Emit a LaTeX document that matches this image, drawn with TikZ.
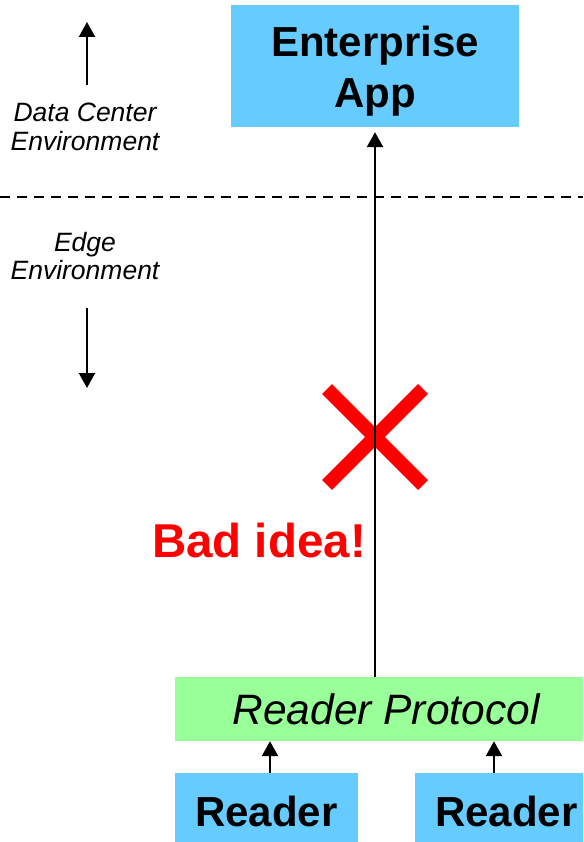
\documentclass[tikz,border=0pt]{standalone}
\usepackage{fontspec}
\setmainfont{Liberation Sans}
\usetikzlibrary{arrows.meta, positioning}

\definecolor{boxblue}{HTML}{66CCFF}
\definecolor{protogreen}{HTML}{99FF99}

\tikzset{
	bluebox/.style={fill=boxblue, inner sep=0pt, align=center, font=\bfseries\fontsize{42}{51}\selectfont},
	envlabel/.style={inner sep=0pt, align=center, font=\itshape\fontsize{26.5}{28.5}\selectfont},
	arr/.style={draw, line width=2.2pt, -{Triangle[width=16pt, length=15pt]}}
}

\begin{document}
\begin{tikzpicture}[x=1pt, y=-1pt]

\useasboundingbox (0,0) rectangle (583,842);
\clip (0,0) rectangle (583,842);

\node [bluebox, minimum width=288pt, minimum height=122pt, text height=92pt] (app) at (375,66) {
	Enterprise \\
	App
};

\node [fill=protogreen, inner sep=0pt, minimum width=422pt, minimum height=64pt,
	font=\itshape\fontsize{42.5}{50}\selectfont] (proto) at (386,709) {Reader Protocol};

\node [bluebox, minimum width=183pt, minimum height=76pt] (readerl) at (266.5,811) {Reader};
\node [bluebox, minimum width=183pt, minimum height=76pt] (readerr) at (506.5,811) {Reader};

\node [envlabel] (dcenv) at (85,127) {
	Data Center \\
	Environment
};
\node [envlabel] (edgeenv) at (85,256) {
	Edge \\
	Environment
};

\node [anchor=base, inner sep=0pt, text=red, font=\bfseries\fontsize{47.5}{50}\selectfont] (bad) at (259,557) {Bad idea!};

\coordinate (dl) at (0,197);
\coordinate (dr) at (583,197);
\coordinate (up0) at (87,85);
\coordinate (up1) at (87,22);
\coordinate (dn0) at (87,308);
\coordinate (dn1) at (87,388);
\coordinate (cross) at (375,437);

\path [draw, line width=2pt, dash pattern=on 10pt off 7pt] (dl) -- (dr);

\path [draw, red, line width=14pt] ([shift={(-48,-48)}]cross) -- ([shift={(48,48)}]cross);
\path [draw, red, line width=14pt] ([shift={(-48,48)}]cross) -- ([shift={(48,-48)}]cross);

\path [arr] (up0) -- (up1);
\path [arr] (dn0) -- (dn1);

\path [arr, line width=2.5pt, shorten >=5pt] (proto.north -| app.south) -- (app.south);
\path [arr] ([xshift=3.5pt]readerl.north) -- ([xshift=3.5pt]readerl.north |- proto.south);
\path [arr] ([xshift=-12.5pt]readerr.north) -- ([xshift=-12.5pt]readerr.north |- proto.south);

\end{tikzpicture}
\end{document}
